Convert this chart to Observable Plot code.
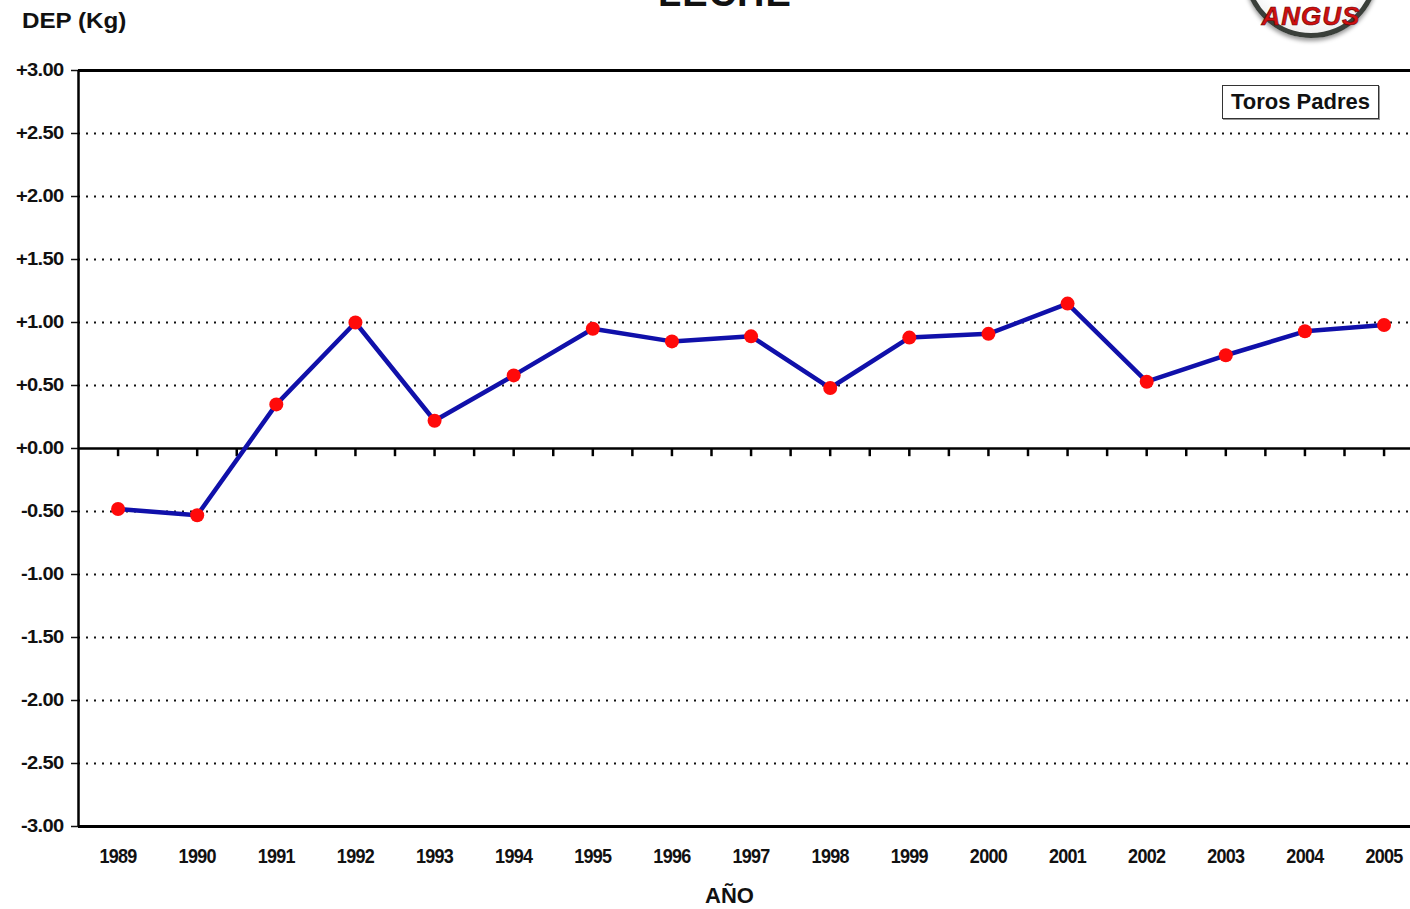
<!DOCTYPE html>
<html>
<head>
<meta charset="utf-8">
<script src="https://cdn.jsdelivr.net/npm/d3@7"></script>
<script src="https://cdn.jsdelivr.net/npm/@observablehq/plot@0.6"></script>
<style>
  html, body { margin: 0; padding: 0; background: #fff; overflow: hidden; }
  #wrap { position: relative; width: 1410px; height: 909px; overflow: hidden; font-family: "Liberation Sans", Arial, sans-serif; }
  .ov { position: absolute; font-weight: bold; color: #111; white-space: nowrap; }
  #title { left: 0; width: 1450px; text-align: center; top: -28px; font-size: 38px; letter-spacing: 1px; }
  #ylab { left: 22px; top: 8px; font-size: 22px; transform-origin: 0 0; transform: scaleX(1.1); }
  #xlab { left: 705px; top: 883px; font-size: 22px; }
  #legend { left: 1222px; top: 85px; width: 155px; height: 32px; border: 1.5px solid #333; box-shadow: 1px 1px 0 #999; font-size: 22px; text-align: center; line-height: 31px; font-weight: bold; background: #fff; }
  #logo { left: 1244px; top: -96px; width: 124px; height: 124px; border-radius: 50%; border: 5px solid #3a3f3a; background: radial-gradient(circle at 50% 40%, #fff 60%, #ddd 100%); box-shadow: 0 3px 4px #999; }
  #logo span { position: absolute; left: 0; width: 124px; text-align: center; top: 92px; color: #d01010; font-size: 26px; font-style: italic; font-weight: bold; letter-spacing: 1px; -webkit-text-stroke: 0.6px #600; }
</style>
</head>
<body>
<div id="wrap">
  <div id="chart"></div>
  <div class="ov" id="title">LECHE</div>
  <div class="ov" id="logo"><span>ANGUS</span></div>
  <div class="ov" id="ylab">DEP (Kg)</div>
  <div class="ov" id="xlab">AÑO</div>
  <div class="ov" id="legend">Toros Padres</div>
</div>
<script>
const years = [1989, 1990, 1991, 1992, 1993, 1994, 1995, 1996, 1997, 1998, 1999, 2000, 2001, 2002, 2003, 2004, 2005];
const dep = [-0.48, -0.53, 0.35, 1.00, 0.22, 0.58, 0.95, 0.85, 0.89, 0.48, 0.88, 0.91, 1.15, 0.53, 0.74, 0.93, 0.98];
const yTicks = [-3, -2.5, -2, -1.5, -1, -0.5, 0, 0.5, 1, 1.5, 2, 2.5, 3];
const gridLines = [-2.5, -2, -1.5, -1, -0.5, 0.5, 1, 1.5, 2, 2.5];
const seriesName = "Toros Padres";

const data = years.map((y, i) => ({year: y, value: dep[i], series: seriesName}));
const halfTicks = d3.range(years[0], years[years.length - 1] + 1.01, 0.5);
const xMin = years[0] - 0.5, xMax = years[years.length - 1] + 0.5;

const chart = Plot.plot({
  width: 1410,
  height: 909,
  marginTop: 70,
  marginBottom: 83,
  marginLeft: 78,
  marginRight: 0,
  style: {fontFamily: '"Liberation Sans", Arial, sans-serif', background: "#fff", color: "#111", overflow: "hidden"},
  x: {
    type: "linear",
    domain: [xMin, xMax],
    range: [78, 78 + (1383 - 117) / 16 * 17],
    ticks: years,
    tickFormat: d => String(d),
    tickSize: 0,
    tickPadding: 22,
    label: null
  },
  y: {
    domain: [-3, 3],
    ticks: yTicks,
    tickFormat: d => (d >= 0 ? "+" : "-") + Math.abs(d).toFixed(2),
    tickSize: 7,
    tickPadding: 8,
    label: null
  },
  marks: [
    Plot.ruleY(gridLines, {stroke: "#111", strokeWidth: 2, strokeDasharray: "2,6"}),
    Plot.ruleY([3], {stroke: "#000", strokeWidth: 3}),
    Plot.ruleY([-3], {stroke: "#000", strokeWidth: 3}),
    Plot.ruleX([xMin], {stroke: "#000", strokeWidth: 2.5}),
    Plot.ruleY([0], {stroke: "#000", strokeWidth: 2.5}),
    Plot.ruleX(halfTicks, {x: d => d, y1: 0, y2: -0.065, stroke: "#000", strokeWidth: 2.5}),
    Plot.line(data, {x: "year", y: "value", stroke: "#1010aa", strokeWidth: 4.5, clip: true}),
    Plot.dot(data, {x: "year", y: "value", r: 7, fill: "#ff0a0a", stroke: "none", clip: true})
  ]
});
document.getElementById("chart").appendChild(chart);

function styleLabels(label, size, sx, ls) {
  chart.querySelectorAll(`g[aria-label="${label}"]`).forEach(g => {
    g.setAttribute("font-size", size);
    g.setAttribute("font-weight", "bold");
    g.querySelectorAll("text").forEach(t => {
      t.setAttribute("letter-spacing", ls);
      const tr = t.getAttribute("transform") || "";
      t.setAttribute("transform", (tr + ` scale(${sx},1)`).trim());
    });
  });
}
styleLabels("y-axis tick label", 17.5, 1.15, -0.6);
styleLabels("x-axis tick label", 20, 0.9, -0.8);
chart.querySelectorAll('g[aria-label="y-axis tick"], g[aria-label="x-axis tick"]').forEach(e => { e.setAttribute("stroke-width", "1.5"); });
</script>
</body>
</html>
